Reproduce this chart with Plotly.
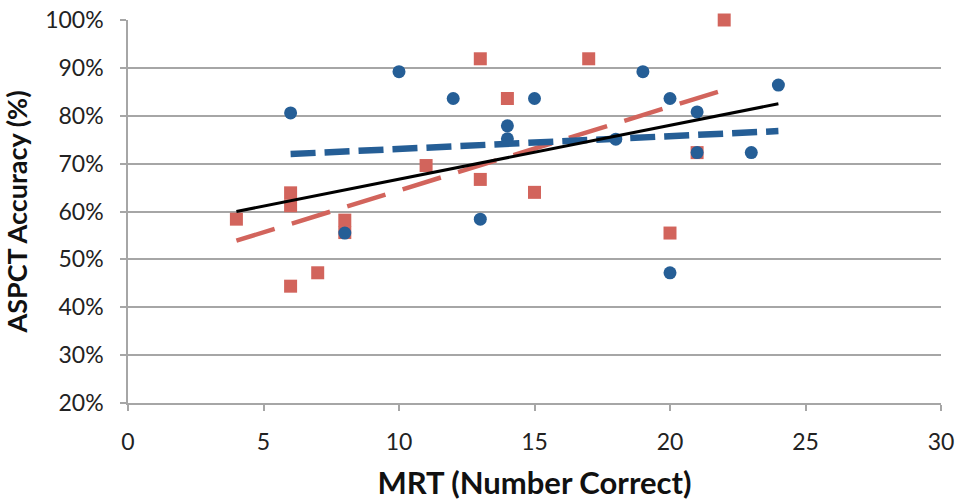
import plotly.graph_objects as go

# Blue series (circles), accuracy in %
blue_x = [6, 8, 10, 12, 13, 14, 14, 15, 18, 19, 20, 20, 21, 21, 23, 24]
blue_y = [80.6, 55.5, 89.2, 83.6, 58.4, 77.9, 75.2, 83.6, 75.1, 89.2, 83.6, 47.2, 80.8, 72.3, 72.3, 86.4]

# Red series (squares), accuracy in %
red_x = [4, 6, 6, 6, 7, 8, 8, 11, 13, 13, 14, 15, 17, 20, 21, 22]
red_y = [58.4, 63.9, 61.2, 44.4, 47.2, 58.2, 55.6, 69.6, 91.9, 66.7, 83.6, 64.0, 91.9, 55.5, 72.3, 100.0]

# Trendline end values
trend_all_x = [4, 24]
trend_all_y = [60.0, 82.5]
trend_blue_x = [6, 24]
trend_blue_y = [72.0, 76.8]
trend_red_x = [4, 22]
trend_red_y = [53.9, 85.4]

# Axis ticks
x_ticks = [0, 5, 10, 15, 20, 25, 30]
y_ticks = [20, 30, 40, 50, 60, 70, 80, 90, 100]
y_tick_labels = ["20%", "30%", "40%", "50%", "60%", "70%", "80%", "90%", "100%"]

BLUE = "#255E96"
RED = "#D2645C"
GRID = "#A6A6A6"
FONT = "Lato"

fig = go.Figure()
fig.add_trace(go.Scatter(x=red_x, y=red_y, mode="markers", cliponaxis=False,
                         marker=dict(symbol="square", size=13, color=RED), showlegend=False))
fig.add_trace(go.Scatter(x=blue_x, y=blue_y, mode="markers", cliponaxis=False,
                         marker=dict(symbol="circle", size=13, color=BLUE), showlegend=False))
fig.add_trace(go.Scatter(x=trend_red_x, y=trend_red_y, mode="lines",
                         line=dict(color=RED, width=4.5, dash="40px,18px"), showlegend=False))
fig.add_trace(go.Scatter(x=trend_blue_x, y=trend_blue_y, mode="lines",
                         line=dict(color=BLUE, width=6.5, dash="25px,9px"), showlegend=False))
fig.add_trace(go.Scatter(x=trend_all_x, y=trend_all_y, mode="lines",
                         line=dict(color="black", width=3), showlegend=False))

fig.update_layout(
    width=959, height=501,
    margin=dict(l=128, r=18, t=20, b=98, autoexpand=False),
    paper_bgcolor="white", plot_bgcolor="white",
    font=dict(family=FONT, size=23, color="#222222"),
)
fig.update_xaxes(
    range=[0, 30], tickvals=x_ticks, automargin=False,
    showgrid=False, zeroline=False,
    showline=True, linecolor=GRID, linewidth=1.5,
    ticks="outside", ticklen=6, tickcolor=GRID, tickwidth=1.5,
    ticklabelstandoff=12,
    tickfont=dict(family=FONT, size=23, color="#222222"),
    title=dict(text="<b>MRT (Number Correct)</b>", font=dict(family=FONT, size=31, color="#111111"), standoff=26),
)
fig.update_yaxes(
    range=[20, 100], tickvals=y_ticks, ticktext=y_tick_labels, automargin=False,
    showgrid=True, gridcolor=GRID, gridwidth=1.5, zeroline=False,
    showline=True, linecolor=GRID, linewidth=1.5,
    ticks="outside", ticklen=6, tickcolor=GRID, tickwidth=1.5,
    ticklabelstandoff=12,
    tickfont=dict(family=FONT, size=23, color="#222222"),
    title=dict(text="<b>ASPCT Accuracy (%)</b>", font=dict(family=FONT, size=27, color="#111111"), standoff=11),
)

fig.write_html("out.html", config={"displayModeBar": False},
               post_script="document.body.style.margin='0';document.body.style.overflow='hidden';")
